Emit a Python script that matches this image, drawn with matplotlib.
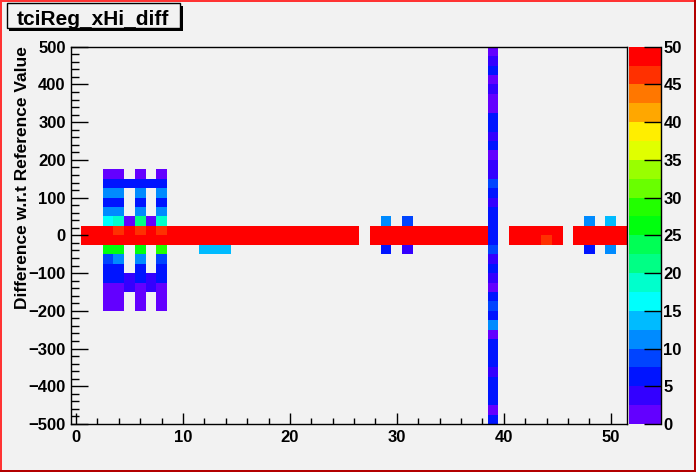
import colorsys
import numpy as np
import matplotlib
matplotlib.use("Agg")
import matplotlib.pyplot as plt
from matplotlib.colors import ListedColormap, BoundaryNorm
from matplotlib.patches import Rectangle

plt.rcParams['font.family'] = ['Liberation Sans', 'DejaVu Sans']
plt.rcParams['font.weight'] = 'bold'

W, H = 696, 472
BG = '#f2f2f2'

# binning of the histogram
x_edges = np.arange(-0.5, 52, 1)
y_edges = np.arange(-500, 501, 25)
z_levels = np.arange(0, 50.1, 2.5)

# saturated band around zero (rows -25..0 and 0..25)
band_x = list(range(1, 27)) + list(range(28, 39)) + list(range(41, 46)) + list(range(47, 52))
band_z = 50

# columns 3..8, rows with lower edge -200 .. 150
block_rows = [-200, -175, -150, -125, -100, -75, -50, -25, 0, 25, 50, 75, 100, 125, 150]
col3 = [1, 1, 1, 6, 6, 9, 26, 50, 50, 16, 11, 6, 11, 6, 1]
col4 = [1, 1, 1, 6, 6, 11, 26, 50, 46, 19, 11, 6, 11, 6, 1]
col5 = [0, 0, 4, 4, 0, 0, 0, 50, 50, 1, 0, 0, 0, 6, 0]
col6 = [1, 1, 1, 6, 6, 11, 26, 50, 46, 21, 11, 6, 11, 6, 1]
col7 = [0, 0, 4, 4, 0, 0, 0, 50, 50, 1, 0, 0, 0, 6, 0]
col8 = [1, 1, 1, 6, 6, 9, 29, 50, 46, 19, 11, 6, 11, 6, 1]

# column 39 spans the whole range, rows from -500 up to 475
col39 = [6, 1, 6, 6, 6, 4, 6, 6, 6, 1, 11, 6, 9, 6, 1, 4, 6, 4, 9, 6,
         6, 6, 6, 4, 6, 9, 4, 4, 1, 6, 4, 6, 6, 1, 1, 4, 1, 6, 4, 1]

# scattered cells next to the band
side_x = [12, 13, 14, 29, 29, 31, 31, 48, 48, 50, 50, 44]
side_y = [-50, -50, -50, 25, -50, 25, -50, 25, -50, 25, -50, -25]
side_z = [14, 14, 14, 11, 6, 9, 4, 11, 6, 14, 11, 46]

x_ticks = [0, 10, 20, 30, 40, 50]
y_ticks = list(range(-500, 501, 100))
z_ticks = list(range(0, 51, 5))


def ix(x):
    return int(round(x - x_edges[0] - 0.5))


def iy(y):
    return int((y - y_edges[0]) // 25)


z = np.zeros((len(y_edges) - 1, len(x_edges) - 1))
for x in band_x:
    z[iy(-25), ix(x)] = band_z
    z[iy(0), ix(x)] = band_z
for x, col in zip([3, 4, 5, 6, 7, 8], [col3, col4, col5, col6, col7, col8]):
    for y, v in zip(block_rows, col):
        if v:
            z[iy(y), ix(x)] = v
for i, v in enumerate(col39):
    z[i, ix(39)] = v
for x, y, v in zip(side_x, side_y, side_z):
    z[iy(y), ix(x)] = v
z = np.ma.masked_equal(z, 0)

# ROOT "pretty" palette, 20 contours picked out of 50 colours
colors = []
for k in range(20):
    j = int((k + 0.99) * 50 / 20)
    hue = 280 - (j + 1) * 5.6
    colors.append(colorsys.hls_to_rgb(hue / 360.0, 0.5, 1.0))
cmap = ListedColormap(colors).with_extremes(over=colors[-1])
norm = BoundaryNorm(z_levels, 20)

fig = plt.figure(figsize=(W / 100, H / 100), dpi=100, facecolor=BG)

ax = fig.add_axes([70.7 / W, 1 - 424 / H, 556 / W, 377.3 / H])
ax.set_facecolor(BG)
ax.pcolormesh(x_edges, y_edges, z, cmap=cmap, norm=norm)
ax.set_xlim(-0.5, 51.5)
ax.set_ylim(-500, 500)
ax.set_xticks(x_ticks)
ax.set_xticks(np.arange(0, 52, 2), minor=True)
ax.set_yticks(y_ticks)
ax.set_yticks(np.arange(-500, 501, 20), minor=True)
ax.tick_params(axis='x', which='major', direction='in', length=8, width=1, pad=4, labelsize=12)
ax.tick_params(axis='x', which='minor', direction='in', length=4, width=1)
ax.tick_params(axis='y', which='major', direction='in', length=12, width=1, pad=3.6, labelsize=12)
ax.tick_params(axis='y', which='minor', direction='in', length=6, width=1)
for lab in ax.get_xticklabels() + ax.get_yticklabels():
    lab.set_fontweight('bold')
for s in ax.spines.values():
    s.set_linewidth(1)

# palette axis
cax = fig.add_axes([629 / W, 1 - 424 / H, 32 / W, 377.3 / H])
cax.pcolormesh([0, 1], z_levels, (z_levels[:-1] + 1.25).reshape(-1, 1), cmap=cmap, norm=norm)
cax.set_xlim(0, 1)
cax.set_ylim(0, 50)
cax.set_xticks([])
cax.yaxis.tick_right()
cax.set_yticks(z_ticks)
cax.tick_params(axis='y', direction='in', length=12, width=1, pad=1.7, labelsize=12)
for lab in cax.get_yticklabels():
    lab.set_fontweight('bold')
for side in ['left', 'top', 'bottom']:
    cax.spines[side].set_visible(False)
cax.spines['right'].set_linewidth(1)

fig.text(23 / W, 1 - 46 / H, 'Difference w.r.t Reference Value', rotation=90,
         ha='center', va='top', fontsize=12.5, fontweight='bold')

# title box with shadow
def px_rect(x0, y0, x1, y1, **kw):
    fig.patches.append(Rectangle((x0 / W, 1 - y1 / H), (x1 - x0) / W, (y1 - y0) / H,
                                 transform=fig.transFigure, figure=fig, **kw))

px_rect(9, 6, 182.5, 30.5, facecolor='black', edgecolor='none')
px_rect(6.5, 3, 180, 28, facecolor=BG, edgecolor='black', linewidth=1)
fig.text(93 / W, 1 - 25 / H, 'tciReg_xHi_diff', ha='center', va='baseline',
         fontsize=15, fontweight='bold')

# canvas border
px_rect(0, 0, W, 2, facecolor='#ff3333', edgecolor='none')
px_rect(0, 0, 2.3, H, facecolor='#ff3333', edgecolor='none')
px_rect(W - 2, 0, W, H, facecolor='#b30000', edgecolor='none')
px_rect(0, H - 2.5, W, H, facecolor='#b30000', edgecolor='none')

fig.savefig('out.png', dpi=100, facecolor=BG)
